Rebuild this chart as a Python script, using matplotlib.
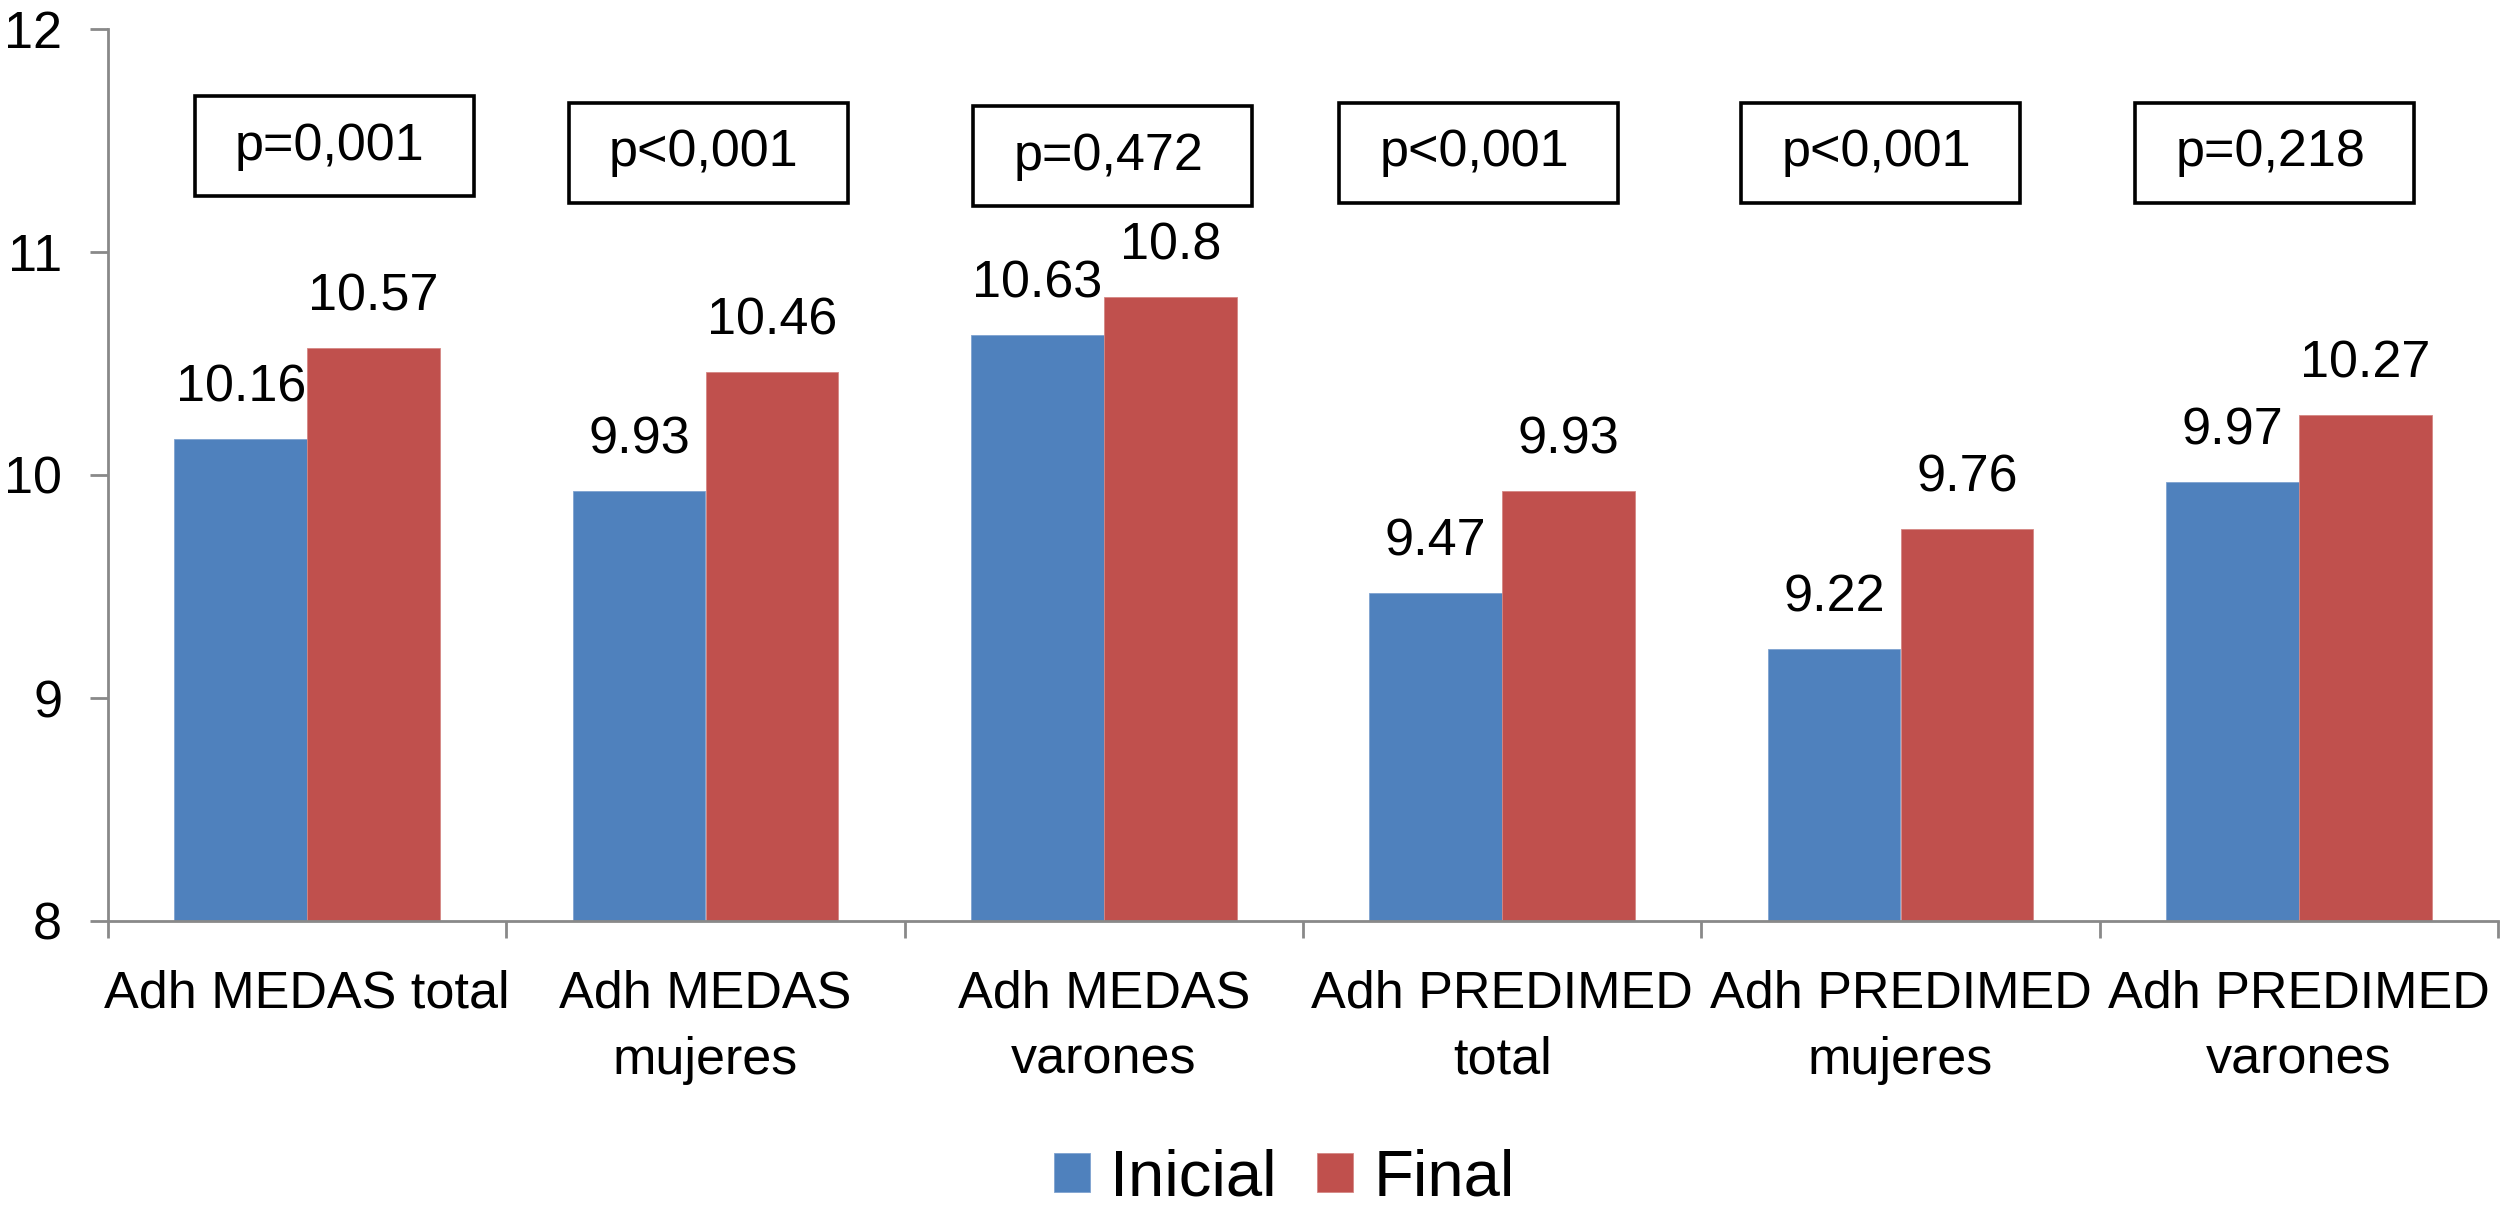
import matplotlib
matplotlib.use("Agg")
import matplotlib.pyplot as plt
from matplotlib.patches import Rectangle

plt.rcParams['font.family'] = ['Liberation Sans', 'DejaVu Sans']

categories = ["Adh MEDAS total", "Adh MEDAS\nmujeres", "Adh MEDAS\nvarones",
              "Adh PREDIMED\ntotal", "Adh PREDIMED\nmujeres", "Adh PREDIMED\nvarones"]
inicial = [10.16, 9.93, 10.63, 9.47, 9.22, 9.97]
final = [10.57, 10.46, 10.8, 9.93, 9.76, 10.27]
p_labels = ["p=0,001", "p<0,001", "p=0,472", "p<0,001", "p<0,001", "p=0,218"]

# where the p-value boxes sit (offset from category left edge, bottom in data units)
box_dx = [0.218, 0.157, 0.172, 0.091, 0.100, 0.089]
box_y0 = [11.25, 11.22, 11.206, 11.22, 11.22, 11.22]
box_w = 0.70
box_h = 0.448

blue = "#4F81BD"
red = "#C0504D"
grey = "#898989"
fs = 37.5

fig = plt.figure(figsize=(25.03, 12.31), dpi=100)
ax = fig.add_axes([108 / 2503, 1 - 921 / 1231, (2498 - 108) / 2503, (921 - 29) / 1231])

x = list(range(len(categories)))
w = 1 / 3
b1 = ax.bar([i - w / 2 for i in x], [v - 8 for v in inicial], w, bottom=8, color=blue,
            edgecolor="#7FA3D0", linewidth=0.6, label="Inicial")
b2 = ax.bar([i + w / 2 for i in x], [v - 8 for v in final], w, bottom=8, color=red,
            edgecolor="#D58784", linewidth=0.6, label="Final")

for bars, vals in ((b1, inicial), (b2, final)):
    for r, v in zip(bars, vals):
        ax.annotate(f"{v:g}", (r.get_x() + r.get_width() / 2, v), xytext=(0, 27),
                    textcoords="offset points", ha="center", va="baseline", fontsize=fs)

for i, txt in enumerate(p_labels):
    x0 = i - 0.5 + box_dx[i]
    ax.add_patch(Rectangle((x0, box_y0[i]), box_w, box_h, fill=False,
                           edgecolor="black", linewidth=2.6, clip_on=False))
    ax.annotate(txt, (x0, box_y0[i] + box_h / 2), xytext=(29, 0), textcoords="offset points",
                ha="left", va="center", fontsize=fs)

ax.set_xlim(-0.5, 5.5)
ax.set_ylim(8, 12)
ax.set_yticks([8, 9, 10, 11, 12])
ax.tick_params(axis="y", direction="out", length=13, width=2, color=grey, pad=20, labelsize=fs)

ax.set_xticks(x)
ax.set_xticklabels(categories, fontsize=fs, linespacing=1.45)
ax.set_xticks([i - 0.5 for i in range(len(categories) + 1)], minor=True)
ax.tick_params(axis="x", which="major", length=0, pad=35)
ax.tick_params(axis="x", which="minor", direction="out", length=12, width=2, color=grey)

for s in ("top", "right"):
    ax.spines[s].set_visible(False)
for s in ("left", "bottom"):
    ax.spines[s].set_color(grey)
    ax.spines[s].set_linewidth(2)

ax.legend(loc="center", bbox_to_anchor=(0.5132, 0.0425), bbox_transform=fig.transFigure,
          ncol=2, frameon=False, fontsize=47, handlelength=0.55, handleheight=0.54,
          handletextpad=0.31, columnspacing=0.62)

fig.savefig("out.png", dpi=100)
